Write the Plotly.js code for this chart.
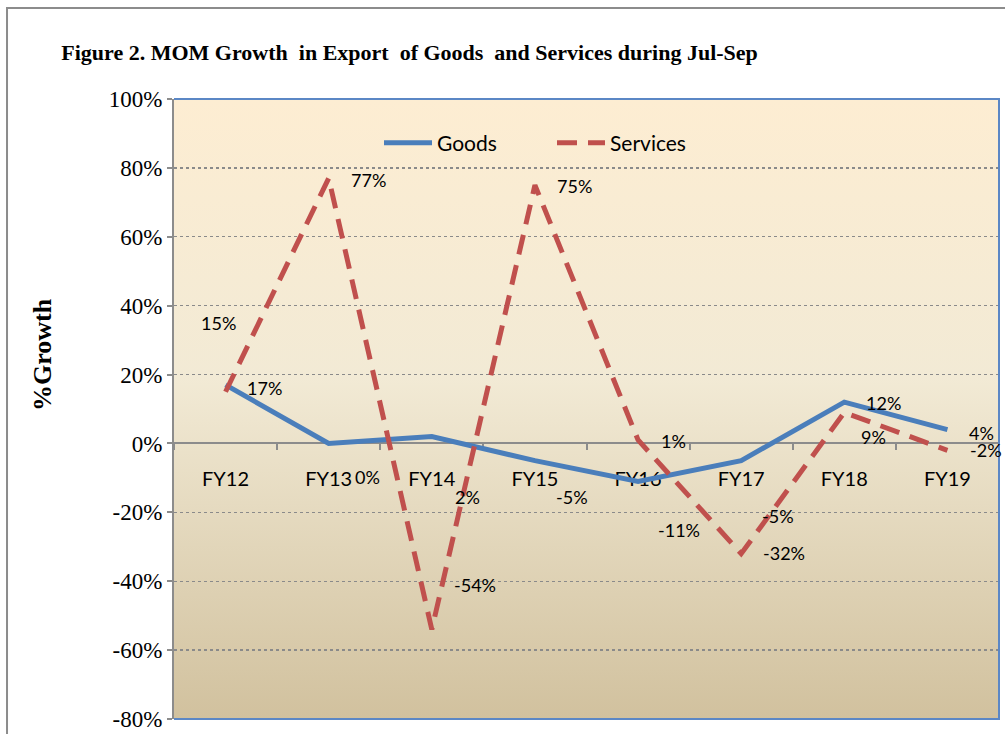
<!DOCTYPE html>
<html>
<head>
<meta charset="utf-8">
<script src="https://cdn.plot.ly/plotly-3.0.1.min.js"></script>
<style>
  html, body { margin: 0; padding: 0; background: #fff; }
  #chart { width: 1005px; height: 734px; }
</style>
</head>
<body>
<div id="chart"></div>
<script>
// values
var categories = ["FY12", "FY13", "FY14", "FY15", "FY16", "FY17", "FY18", "FY19"];
var goods = [17, 0, 2, -5, -11, -5, 12, 4];
var services = [15, 77, -54, 75, 1, -32, 9, -2];
var yTicks = [-80, -60, -40, -20, 0, 20, 40, 60, 80, 100];

// where excel put each data label, relative to its point (px, right / down)
var goodsShift = [[39, 3], [39, 34], [36, 60], [37, 36], [41, 49], [37, 55], [39, 1], [34, 3]];
var servicesShift = [[-7, -69], [40, 2], [43, -44], [40, 1], [35, 1], [43, -1], [29, 25], [39, 0]];

var serif = "'Liberation Serif', 'Times New Roman', serif";
var sans = "Lato, 'Liberation Sans', sans-serif";
var labelFont = { family: sans, size: 18, color: "#000" };

// vertical gradient of the plot area
var grad = '<svg xmlns="http://www.w3.org/2000/svg" width="10" height="100" preserveAspectRatio="none">' +
	'<defs><linearGradient id="g" x1="0" y1="0" x2="0" y2="1">' +
	'<stop offset="0" stop-color="#FDEDD2"/>' +
	'<stop offset="0.45" stop-color="#F2EAD5"/>' +
	'<stop offset="1" stop-color="#D1C19E"/>' +
	'</linearGradient></defs><rect width="10" height="100" fill="url(#g)"/></svg>';

function pct(v) {
	return v + "%";
}

var trace_goods = {
	type: "scatter",
	mode: "lines",
	x: categories,
	y: goods,
	name: "Goods",
	line: { color: "#4A7EBB", width: 5 },
	hoverinfo: "skip"
};

var trace_services = {
	type: "scatter",
	mode: "lines",
	x: categories,
	y: services,
	name: "Services",
	line: { color: "#C0504D", width: 5, dash: "20px,11px" },
	hoverinfo: "skip"
};

var annotations = [];
function addLabels(values, shifts) {
	for (var i = 0; i < values.length; i++) {
		annotations.push({
			x: categories[i],
			y: values[i],
			xref: "x",
			yref: "y",
			text: pct(values[i]),
			showarrow: false,
			xanchor: "center",
			yanchor: "middle",
			xshift: shifts[i][0],
			yshift: -shifts[i][1],
			font: labelFont
		});
	}
}
addLabels(goods, goodsShift);
addLabels(services, servicesShift);

// y axis title sits above the middle in the original
annotations.push({
	text: "<b>%Growth</b>",
	xref: "paper",
	yref: "paper",
	x: (42 - 174) / 825,
	y: (719 - 355) / 620,
	xanchor: "center",
	yanchor: "middle",
	textangle: -90,
	showarrow: false,
	font: { family: serif, size: 26, color: "#000" }
});

var layout = {
	width: 1005,
	height: 734,
	paper_bgcolor: "#ffffff",
	plot_bgcolor: "rgba(0,0,0,0)",
	hovermode: false,
	margin: { l: 174, r: 6, t: 99, b: 15, autoexpand: false },
	title: {
		text: "<b>Figure 2. MOM Growth  in Export  of Goods  and Services during Jul-Sep</b>",
		xref: "container",
		yref: "container",
		x: 0.061,
		xanchor: "left",
		y: 1 - 52 / 734,
		yanchor: "middle",
		font: { family: serif, size: 22, color: "#000" }
	},
	xaxis: {
		type: "category",
		range: [-0.5, categories.length - 0.5],
		anchor: "free",
		position: 80 / 180,
		showline: true,
		linecolor: "#8C8C8C",
		linewidth: 2,
		showgrid: false,
		zeroline: false,
		ticks: "outside",
		tickson: "boundaries",
		ticklen: 6,
		tickwidth: 2,
		tickcolor: "#8C8C8C",
		ticklabelstandoff: 18,
		layer: "below traces",
		tickfont: { family: sans, size: 20, color: "#000" },
		fixedrange: true
	},
	yaxis: {
		range: [-80, 100],
		tickmode: "array",
		tickvals: yTicks,
		ticktext: yTicks.map(pct),
		showline: true,
		linecolor: "#8C8C8C",
		linewidth: 2,
		ticks: "outside",
		ticklen: 5,
		tickwidth: 2,
		tickcolor: "#8C8C8C",
		showgrid: true,
		gridcolor: "#8A8A8A",
		griddash: "dot",
		gridwidth: 1.3,
		zeroline: false,
		layer: "below traces",
		tickfont: { family: serif, size: 23, color: "#000" },
		fixedrange: true
	},
	showlegend: true,
	legend: {
		orientation: "h",
		x: (379 - 174) / 825,
		xanchor: "left",
		y: (719 - 143) / 620,
		yanchor: "middle",
		bgcolor: "rgba(0,0,0,0)",
		itemwidth: 48,
		entrywidth: 110,
		font: { family: sans, size: 21, color: "#000" }
	},
	images: [{
		source: "data:image/svg+xml;charset=utf-8," + encodeURIComponent(grad),
		xref: "paper",
		yref: "paper",
		x: 0,
		y: 1,
		sizex: 1,
		sizey: 1,
		sizing: "stretch",
		layer: "below"
	}],
	shapes: [
		// blue frame of the plot area (top, right, bottom)
		{
			type: "path",
			xref: "paper",
			yref: "paper",
			path: "M 0,1 L 1,1 L 1,0 L 0,0",
			line: { color: "#5B87C5", width: 2 },
			layer: "above"
		},
		// outer chart border, partly cut off
		{
			type: "path",
			xref: "paper",
			yref: "paper",
			path: "M -0.2024,-0.1 L -0.2024,1.1468 L 1.1,1.1468",
			line: { color: "#8C8C8C", width: 2 },
			layer: "above"
		}
	],
	annotations: annotations
};

Plotly.newPlot("chart", [trace_goods, trace_services], layout, {
	displayModeBar: false,
	staticPlot: true
});
</script>
</body>
</html>
